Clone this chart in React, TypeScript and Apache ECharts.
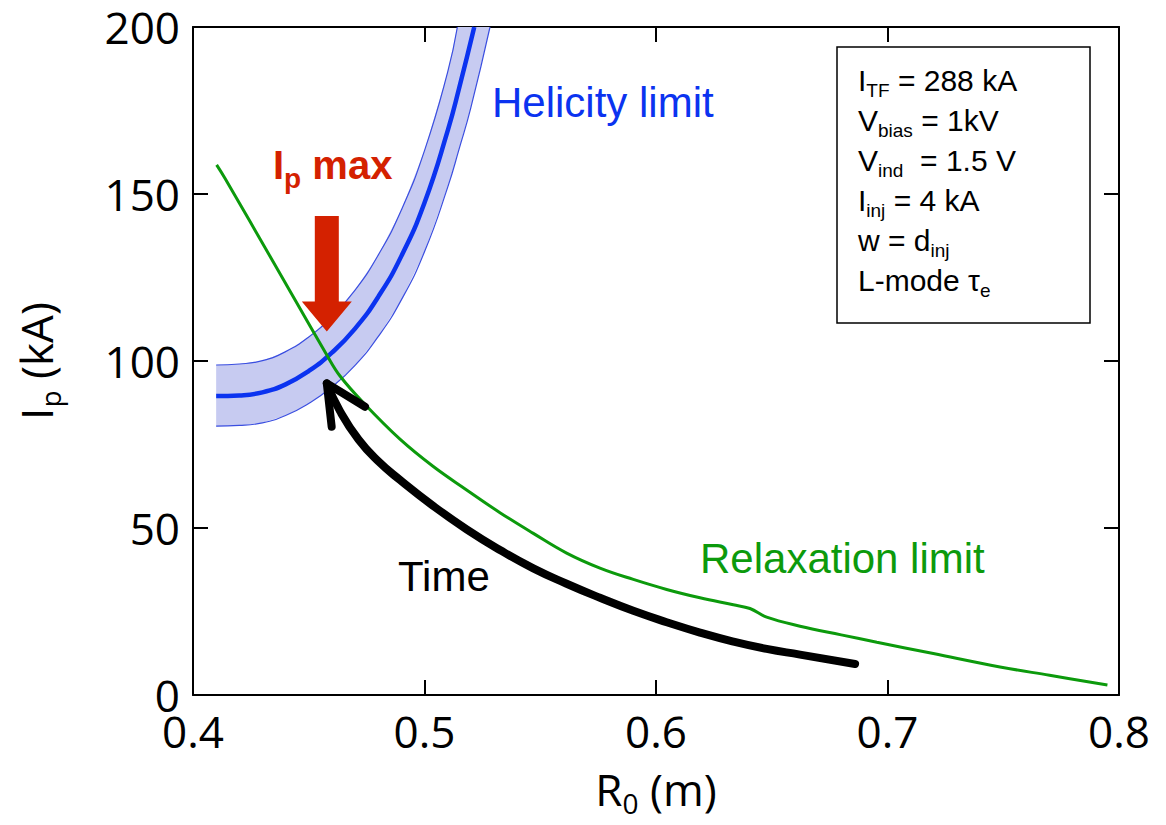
import React, { useEffect, useRef } from "react";
import * as echarts from "echarts";

// ---------- data ----------
const xTickLabelsDigits = 1;

const helicityCenter: [number, number][] = [
  [0.41, 89.5], [0.42, 89.7], [0.43, 90.6], [0.44, 93.0], [0.45, 97.0],
  [0.46, 102.5], [0.47, 109.7], [0.48, 119.2], [0.49, 131.4], [0.5, 147.4],
  [0.51, 168.9], [0.515, 181.8], [0.5215, 200],
];
const helicityUpper: [number, number][] = [
  [0.41, 98.8], [0.42, 99.1], [0.43, 100.1], [0.44, 102.8], [0.45, 107.2],
  [0.46, 113.3], [0.47, 121.2], [0.48, 131.7], [0.49, 145.2], [0.5, 163],
  [0.51, 186.5], [0.5142, 200],
];
const helicityLower: [number, number][] = [
  [0.41, 80.5], [0.42, 80.7], [0.43, 81.5], [0.44, 83.7], [0.45, 87.3],
  [0.46, 92.2], [0.47, 98.7], [0.48, 107.3], [0.49, 118.3], [0.5, 132.7],
  [0.51, 152], [0.515, 163.6], [0.52, 175.8], [0.5283, 200],
];
const relaxation: [number, number][] = [
  [0.4102, 158.7], [0.4138, 154.7], [0.4358, 128.3], [0.4578, 101.8],
  [0.4635, 95.5], [0.474, 87.2], [0.4894, 76.6], [0.5038, 68.4],
  [0.5182, 61.4], [0.5326, 54.6], [0.547, 48.4], [0.5614, 42.5],
  [0.5758, 38], [0.5902, 34.6], [0.6046, 31.6], [0.619, 29.1],
  [0.6334, 27], [0.6406, 25.9], [0.6478, 23.3], [0.6622, 20.6],
  [0.68, 18], [0.6954, 15.8], [0.7198, 12.4], [0.7486, 8.4],
  [0.77, 5.9], [0.795, 3],
];
const timePath: [number, number][] = [
  [0.4578, 93.3], [0.4635, 85], [0.4715, 76.5], [0.48, 70], [0.4894, 64.4],
  [0.5038, 56.6], [0.5182, 49.6], [0.5326, 43.4], [0.547, 37.9],
  [0.5614, 33.3], [0.5758, 29.1], [0.5902, 25.2], [0.6046, 21.8],
  [0.619, 18.7], [0.6334, 16], [0.6478, 13.8], [0.6622, 12.1], [0.686, 9.3],
];
const timeHead: [number, number][] = [[0.4743, 86.3], [0.4578, 93.3], [0.4599, 80.3]];
// [x, tip y, tail y]
const ipMaxArrow: [number, number, number][] = [[0.4578, 108.8, 143.4]];

const paramLines: string[] = [
  "{m|I}{s|TF}{m| = 288 kA}",
  "{m|V}{s|bias}{m| = 1kV}",
  "{m|V}{s|ind}{m|  = 1.5 V}",
  "{m|I}{s|inj}{m| = 4 kA}",
  "{m|w = d}{s|inj}",
  "{m|L-mode τ}{s|e}",
];

// ---------- styles ----------
const FONT_AXIS = "'Open Sans', 'Noto Sans', sans-serif";
const FONT_ANN = "'Liberation Sans', Arial, sans-serif";
const BLUE = "#0b33f0";
const BLUE_EDGE = "#3a4ee0";
const BAND_FILL = "#c7cbf1";
const GREEN = "#0c9a0c";
const RED = "#d42100";

export default function App() {
  const ref = useRef<HTMLDivElement>(null);

  useEffect(() => {
    const chart = echarts.init(ref.current!, null, { renderer: "svg" });

    const axisLine = { show: true, onZero: false, lineStyle: { color: "#000", width: 2 } };
    const axisTick = { show: true, inside: true, length: 15, lineStyle: { color: "#000", width: 2 } };

    const richAxis = {
      a: { fontSize: 44, fontFamily: FONT_AXIS, color: "#000", lineHeight: 44, verticalAlign: "top" },
      s: { fontSize: 28, fontFamily: FONT_AXIS, color: "#000", lineHeight: 50, verticalAlign: "bottom" },
    };

    const annText = (text: string, x: number, y: number, color: string) => ({
      type: "text", x, y, z: 10,
      style: {
        text, fill: color, fontSize: 42, fontFamily: FONT_ANN,
        align: "left", verticalAlign: "middle", textAlign: "left", textVerticalAlign: "middle",
      },
    });

    const option: any = {
      animation: false,
      backgroundColor: "#fff",
      grid: { left: 193, right: 47, top: 27, bottom: 130, show: false, outerBoundsMode: "none" },
      xAxis: [
        {
          type: "value", min: 0.4, max: 0.8, interval: 0.1, position: "bottom",
          axisLine, axisTick, splitLine: { show: false },
          axisLabel: {
            fontSize: 44, fontFamily: FONT_AXIS, color: "#000", margin: 14,
            formatter: (v: number) => v.toFixed(xTickLabelsDigits),
          },
          name: "{a|R}{s|0}{a| (m)}", nameLocation: "middle", nameGap: 72,
          nameTextStyle: { rich: richAxis },
        },
        {
          type: "value", min: 0.4, max: 0.8, interval: 0.1, position: "top",
          axisLine, axisTick, splitLine: { show: false }, axisLabel: { show: false },
        },
      ],
      yAxis: [
        {
          type: "value", min: 0, max: 200, interval: 50, position: "left",
          axisLine, axisTick, splitLine: { show: false },
          axisLabel: { fontSize: 44, fontFamily: FONT_AXIS, color: "#000", margin: 13 },
          name: "{a|I}{s|p}{a| (kA)}", nameLocation: "middle", nameGap: 129,
          nameTextStyle: { rich: richAxis },
        },
        {
          type: "value", min: 0, max: 200, interval: 50, position: "right",
          axisLine, axisTick, splitLine: { show: false }, axisLabel: { show: false },
        },
      ],
      series: [
        {
          type: "custom", z: 1, silent: true, clip: true,
          data: [helicityCenter[0]],
          renderItem: (_params: any, api: any) => {
            const pts = helicityUpper.map((p) => api.coord(p))
              .concat(helicityLower.slice().reverse().map((p) => api.coord(p)));
            return { type: "polygon", shape: { points: pts, smooth: 0 }, style: { fill: BAND_FILL } };
          },
        },
        {
          type: "line", z: 2, data: helicityUpper, symbol: "none", smooth: 0.5,
          lineStyle: { color: BLUE_EDGE, width: 1.2 },
        },
        {
          type: "line", z: 2, data: helicityLower, symbol: "none", smooth: 0.5,
          lineStyle: { color: BLUE_EDGE, width: 1.2 },
        },
        {
          type: "line", z: 3, data: helicityCenter, symbol: "none", smooth: 0.5,
          lineStyle: { color: BLUE, width: 4.5 },
        },
        {
          type: "line", z: 4, data: relaxation, symbol: "none", smooth: 0.4,
          lineStyle: { color: GREEN, width: 3 },
        },
        {
          type: "line", z: 5, data: timePath, symbol: "none", smooth: 0.5,
          lineStyle: { color: "#000", width: 8, cap: "round", join: "round" },
        },
        {
          type: "line", z: 5, data: timeHead, symbol: "none", smooth: false,
          lineStyle: { color: "#000", width: 8, cap: "round", join: "round" },
        },
        {
          type: "custom", z: 6, silent: true,
          data: ipMaxArrow,
          encode: { x: 0, y: [1, 2] },
          renderItem: (_params: any, api: any) => {
            const tip = api.coord([api.value(0), api.value(1)]);
            const tail = api.coord([api.value(0), api.value(2)]);
            const cx = tip[0];
            const hb = tip[1] - 30;
            return {
              type: "polygon",
              shape: {
                points: [
                  [cx - 12, tail[1]], [cx + 12, tail[1]], [cx + 12, hb], [cx + 25, hb],
                  [cx, tip[1]], [cx - 25, hb], [cx - 12, hb],
                ],
              },
              style: { fill: RED },
            };
          },
        },
      ],
      graphic: [
        annText("Helicity limit", 492, 102, BLUE),
        annText("Relaxation limit", 700, 558, GREEN),
        annText("Time", 398, 576, "#000"),
        {
          type: "text", x: 273, y: 145, z: 10,
          style: {
            text: "{b|I}{s|p}{b| max}", align: "left", verticalAlign: "top",
            textAlign: "left", textVerticalAlign: "top",
            rich: {
              b: { fontSize: 40, fontWeight: "bold", fontFamily: FONT_ANN, fill: RED, color: RED, lineHeight: 40, verticalAlign: "top" },
              s: { fontSize: 28, fontWeight: "bold", fontFamily: FONT_ANN, fill: RED, color: RED, lineHeight: 47, verticalAlign: "bottom" },
            },
          },
        },
        {
          type: "rect", z: 10,
          shape: { x: 837, y: 47, width: 253, height: 276 },
          style: { fill: "#fff", stroke: "#000", lineWidth: 1.5 },
        },
        ...paramLines.map((t, i) => ({
          type: "text", x: 858, y: 65 + 40 * i, z: 11,
          style: {
            text: t, align: "left", verticalAlign: "top", textAlign: "left", textVerticalAlign: "top",
            rich: {
              m: { fontSize: 30, fontFamily: FONT_ANN, fill: "#000", color: "#000", lineHeight: 30, verticalAlign: "top" },
              s: { fontSize: 19, fontFamily: FONT_ANN, fill: "#000", color: "#000", lineHeight: 35, verticalAlign: "bottom" },
            },
          },
        })),
      ],
    };

    chart.setOption(option);
    return () => chart.dispose();
  }, []);

  return (
    <div
      ref={ref}
      style={{ position: "absolute", left: 0, top: 0, width: 1166, height: 825, background: "#fff" }}
    />
  );
}
